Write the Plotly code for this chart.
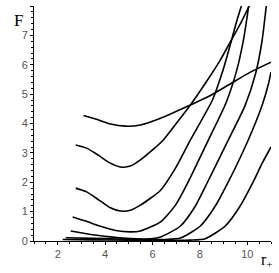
import plotly.graph_objects as go

# Curves: r_plus values and F values
c1_r = [3.09, 3.6, 4.23, 4.86, 5.49, 6.34, 7.6, 8.32, 9.2, 10.13, 11.0]
c1_F = [4.27, 4.15, 3.98, 3.91, 3.95, 4.18, 4.63, 4.9, 5.31, 5.75, 6.09]

c2_r = [2.76, 3.2, 3.7, 4.2, 4.65, 5.07, 5.49, 6.0, 6.46, 7.05, 7.6, 8.23, 8.86, 9.28, 9.7, 10.08]
c2_F = [3.27, 3.17, 2.93, 2.66, 2.52, 2.55, 2.76, 3.10, 3.44, 4.05, 4.63, 5.37, 6.16, 6.77, 7.38, 8.0]

c3_r = [2.76, 3.2, 3.7, 4.2, 4.65, 5.07, 5.49, 6.34, 6.97, 7.6, 8.53, 8.95, 9.28, 9.54, 9.75]
c3_F = [1.80, 1.68, 1.42, 1.14, 1.02, 1.05, 1.22, 1.73, 2.48, 3.44, 4.8, 5.75, 6.67, 7.45, 8.0]

c4_r = [2.63, 3.18, 3.81, 4.44, 5.07, 5.49, 6.34, 6.97, 7.47, 8.36, 9.1, 9.55, 9.85, 10.06]
c4_F = [0.82, 0.68, 0.50, 0.36, 0.31, 0.34, 0.65, 1.22, 1.95, 3.44, 4.7, 5.8, 6.9, 8.0]

c5_r = [2.55, 3.39, 4.23, 5.07, 5.71, 6.34, 7.18, 7.81, 8.32, 9.2, 9.9, 10.35, 10.62, 10.8]
c5_F = [0.34, 0.22, 0.14, 0.08, 0.07, 0.14, 0.51, 1.19, 2.0, 3.44, 4.6, 5.7, 6.8, 8.0]

c6_r = [2.34, 3.5, 4.5, 5.5, 6.5, 7.18, 8.02, 8.65, 9.16, 10.04, 10.63, 10.88, 11.0]
c6_F = [0.11, 0.09, 0.07, 0.05, 0.05, 0.1, 0.51, 1.19, 1.95, 3.44, 4.63, 5.31, 5.75]

c7_r = [2.21, 3.5, 5.0, 6.5, 7.6, 8.23, 9.07, 9.7, 10.21, 10.63, 11.0]
c7_F = [0.05, 0.04, 0.03, 0.02, 0.03, 0.08, 0.51, 1.19, 1.95, 2.65, 3.2]

curves = [(c1_r, c1_F), (c2_r, c2_F), (c3_r, c3_F), (c4_r, c4_F),
          (c5_r, c5_F), (c6_r, c6_F), (c7_r, c7_F)]

fig = go.Figure()
for r, F in curves:
    fig.add_trace(go.Scatter(x=r, y=F, mode="lines",
                             line=dict(color="black", width=1.6, shape="spline", smoothing=0.6),
                             showlegend=False, hoverinfo="skip", cliponaxis=True))

tickfont = dict(family="Liberation Sans, Arial, sans-serif", size=11, color="#555555")
fig.update_layout(
    width=279, height=273,
    margin=dict(l=34, r=8, t=6, b=32),
    paper_bgcolor="white", plot_bgcolor="white",
    xaxis=dict(range=[1, 11], showgrid=False, zeroline=False, showline=True,
               linecolor="black", linewidth=1, ticks="outside", ticklen=3,
               tickcolor="black", tickvals=[2, 4, 6, 8, 10], tickfont=tickfont,
               minor=dict(dtick=0.5, ticks="outside", ticklen=2, tickcolor="black")),
    yaxis=dict(range=[0, 8], showgrid=False, zeroline=False, showline=True,
               linecolor="black", linewidth=1, ticks="outside", ticklen=3,
               tickcolor="black", dtick=1, tickfont=tickfont,
               minor=dict(dtick=0.2, ticks="outside", ticklen=2, tickcolor="black")),
    annotations=[
        dict(text="F", xref="paper", yref="paper", x=-0.066, y=0.94, showarrow=False,
             xanchor="center", yanchor="middle",
             font=dict(family="Liberation Serif, Times New Roman, serif", size=17, color="black")),
        dict(text="r<sub>+</sub>", xref="paper", yref="paper", x=1.015, y=-0.035, showarrow=False,
             xanchor="right", yanchor="top",
             font=dict(family="Liberation Serif, Times New Roman, serif", size=16, color="black")),
    ],
)
fig.write_html("out.html", config={"displayModeBar": False},
               post_script="document.body.style.margin='0';")
